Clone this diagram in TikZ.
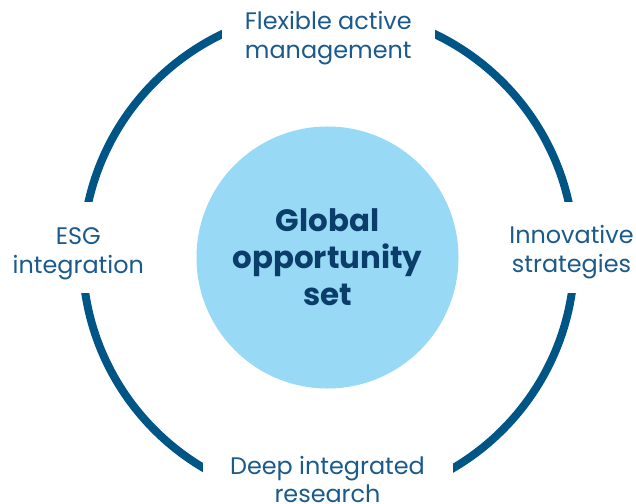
\documentclass[tikz,border=0pt]{standalone}
\usepackage{fontspec}
\setmainfont{Poppins}
\definecolor{ringblue}{HTML}{005587}
\definecolor{labelblue}{HTML}{1A5A8C}
\definecolor{coreblue}{HTML}{0B3D6B}
\definecolor{corefill}{HTML}{98D9F6}
\begin{document}
\begin{tikzpicture}[x=1bp,y=-1bp,
  lbl/.style={font=\fontsize{24}{28.5}\selectfont, text=labelblue, align=center, inner sep=0pt, anchor=base},
  core/.style={circle, fill=corefill, minimum size=262bp, inner sep=0pt, text=coreblue, align=center,
    font=\fontsize{31}{37}\selectfont\bfseries},
  mask/.style={fill=white},
  ring/.style={draw=ringblue, line width=8bp}]
\useasboundingbox (0,0) rectangle (636,504);
\fill[white] (0,0) rectangle (636,504);
\coordinate (c) at (328.5,256);
\draw[ring] (c) circle[radius=246bp];
\fill[mask] (222,-5) rectangle (435,80);
\fill[mask] (-5,202) rectangle (170,293);
\fill[mask] (490,202) rectangle (641,293);
\fill[mask] (203,440) rectangle (453,510);
\node[core] (core) at (327.5,257.5) {Global\\opportunity\\set};
\node[lbl] (top) at (328.3,58.3) {Flexible active\\management};
\node[lbl] (left) at (78.3,273) {ESG\\integration};
\node[lbl] (right) at (571.5,272) {Innovative\\strategies};
\node[lbl] (bottom) at (327.5,502.8) {Deep integrated\\research};
\end{tikzpicture}
\end{document}
